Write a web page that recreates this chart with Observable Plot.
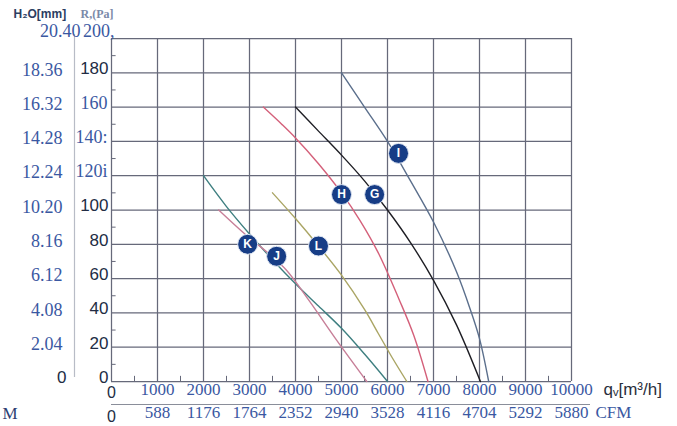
<!DOCTYPE html>
<html><head><meta charset="utf-8">
<script src="https://cdn.jsdelivr.net/npm/d3@7"></script>
<script src="https://cdn.jsdelivr.net/npm/@observablehq/plot@0.6"></script>
<style>html,body{margin:0;padding:0;background:#fff;} #chart svg{display:block}</style>
</head><body><div id="chart"></div>
<script>
// ---- data (flow in m³/h, pressure in Pa) ----
const fans = ["I", "G", "H", "L", "K", "J"];
const fanColors = ["#5b6f8c", "#1e1e24", "#d4607a", "#aaa564", "#3e7f80", "#c77f98"];
const flowI = [5000, 5500, 6000, 6500, 7000, 7500, 7800, 8000, 8200];
const presI = [180, 160, 140, 117, 93, 64, 42, 25, 0];
const flowG = [4000, 4500, 5000, 5500, 6000, 6500, 7000, 7500, 8020];
const presG = [160, 146, 132, 117, 100, 81, 59, 33, 0];
const flowH = [3300, 3700, 4000, 4500, 5000, 5400, 5800, 6250, 6570, 6880];
const presH = [160, 150, 142, 127, 110, 94, 75, 48, 27, 0];
const flowL = [3500, 4000, 4500, 5000, 5500, 5800, 6100, 6420];
const presL = [110, 95, 79, 62, 42, 28, 14, 0];
const flowK = [2000, 2500, 3000, 3500, 4000, 4500, 5000, 5500, 6000];
const presK = [120, 102, 86, 71, 57, 44, 31, 16, 0];
const flowJ = [2330, 2900, 3400, 3800, 4300, 4870, 5550];
const presJ = [100, 86, 75, 65, 47, 25, 0];
// label badge positions
const badgeFlow = [6240, 5720, 5000, 4500, 2960, 3590];
const badgePres = [133, 109, 109, 79, 80, 73];

// ---- axes text ----
const xTicks = [1000, 2000, 3000, 4000, 5000, 6000, 7000, 8000, 9000, 10000];
const xLabels = ["1000", "2000", "3000", "4000", "5000", "6000", "7000", "8000", "9000", "10000"];
const cfmLabels = ["588", "1176", "1764", "2352", "2940", "3528", "4116", "4704", "5292", "5880"];
const xMinor = [500, 1500, 2500, 3500, 4500, 5500, 6500, 7500, 8500, 9500];
const paTicks = [0, 20, 40, 60, 80, 100, 120, 140, 160, 180, 200];
const paMinor = [10, 30, 50, 70, 90, 110, 130, 150, 170, 190];
const paSerifTicks = [160, 140, 120];
const paSerifLabels = ["160", "140:", "120i"];
const paTopLabel = "200,";
const paSansTicks = [180, 100, 80, 60, 40, 20, 0];
const paSansLabels = ["180", "100", "80", "60", "40", "20", "0"];
const mmTicks = [20, 40, 60, 80, 100, 120, 140, 160, 180];
const mmLabels = ["2.04", "4.08", "6.12", "8.16", "10.20", "12.24", "14.28", "16.32", "18.36"];
const mmTopLabel = "20.40";
const zeroLabel = "0";
const unitMm = "H₂O[mm]";
const unitPa = "R,(Pa]";
const unitQ = "qᵥ[m³/h]";
const unitCfm = "CFM";
const strayM = "M";

const series = [
  [flowI, presI], [flowG, presG], [flowH, presH], [flowL, presL], [flowK, presK], [flowJ, presJ]
];
const badges = fans.map((f, i) => ({fan: f, q: badgeFlow[i], p: badgePres[i]}));

const serif = "Liberation Serif";
const sans = "Liberation Sans";
const blue = "#3a58a2";
const dark = "#222c44";
const gridColor = "#66697a";

const marks = [
  Plot.gridY(paTicks, {stroke: gridColor, strokeOpacity: 1, strokeWidth: 1.25}),
  Plot.gridX([0, ...xTicks], {stroke: gridColor, strokeOpacity: 1, strokeWidth: 1.25}),
  Plot.ruleX(xMinor, {y1: 0, y2: 3, stroke: gridColor, strokeWidth: 1}),
  Plot.ruleY(paMinor, {x1: 0, x2: 100, stroke: gridColor, strokeWidth: 1}),
  Plot.ruleX([0], {dx: -37, y1: 0, y2: 200, dy: -4, stroke: "#b8bcc6", strokeWidth: 1.2}),
  Plot.ruleY([0], {dy: 23, insetRight: -19, stroke: "#8a8e9a", strokeWidth: 1}),
];
series.forEach(([qs, ps], i) => {
  marks.push(Plot.line(qs.map((q, j) => ({q, p: ps[j]})), {
    x: "q", y: "p", stroke: fanColors[i], strokeWidth: 1.4, curve: "catmull-rom"
  }));
});
const T = (data, opts) => Plot.text(data, {lineAnchor: "middle", ...opts});
marks.push(
  Plot.dot(badges, {x: "q", y: "p", r: 10, fill: "#173d86", stroke: "#dfe6f2", strokeWidth: 1}),
  Plot.text(badges, {x: "q", y: "p", text: "fan", fill: "white", fontSize: 12, fontWeight: "bold", fontFamily: sans}),
  // Pa axis labels
  T(paSerifTicks, {y: d => d, frameAnchor: "left", text: (d, i) => paSerifLabels[i], textAnchor: "end", dx: -4, dy: -4,
    fontFamily: serif, fontSize: 18, fill: blue}),
  T([200], {y: d => d, frameAnchor: "left", text: () => paTopLabel, textAnchor: "end", dx: 3, dy: -7,
    fontFamily: serif, fontSize: 18, fill: blue}),
  T(paSansTicks, {y: d => d, frameAnchor: "left", text: (d, i) => paSansLabels[i], textAnchor: "end", dx: -3, dy: -4,
    fontFamily: sans, fontSize: 17, fill: dark}),
  // mm axis labels
  T(mmTicks, {y: d => d, frameAnchor: "left", text: (d, i) => mmLabels[i], textAnchor: "end", dx: -49, dy: -3,
    fontFamily: serif, fontSize: 18, fill: blue}),
  T([200], {y: d => d, frameAnchor: "left", text: () => mmTopLabel, textAnchor: "end", dx: -31, dy: -7,
    fontFamily: serif, fontSize: 18, fill: blue}),
  T([0], {y: d => d, frameAnchor: "left", text: () => zeroLabel, textAnchor: "end", dx: -45, dy: -4,
    fontFamily: sans, fontSize: 17, fill: dark}),
  // x axis rows
  T(xTicks, {x: d => d, frameAnchor: "bottom", text: (d, i) => xLabels[i], dy: 8,
    fontFamily: serif, fontSize: 17, fill: blue}),
  T([0], {x: d => d, frameAnchor: "bottom", text: () => zeroLabel, dy: 11, fontFamily: sans, fontSize: 16, fill: dark}),
  T(xTicks, {x: d => d, frameAnchor: "bottom", text: (d, i) => cfmLabels[i], dy: 31,
    fontFamily: serif, fontSize: 17, fill: blue}),
  T([0], {x: d => d, frameAnchor: "bottom", text: () => zeroLabel, dy: 35, fontFamily: sans, fontSize: 16, fill: dark}),
  // unit labels
  T([unitMm], {frameAnchor: "top-left", dx: -98, dy: -24, textAnchor: "start", fontFamily: sans, fontSize: 12, fontWeight: "bold", fill: "#2c3e62"}),
  T([unitPa], {frameAnchor: "top-left", dx: -31, dy: -24, textAnchor: "start", fontFamily: serif, fontSize: 12, fontWeight: "bold", fill: "#7b8aa8"}),
  T([unitQ], {frameAnchor: "bottom-right", dx: 32, dy: 8, textAnchor: "start", fontFamily: sans, fontSize: 17, fill: "#2a2f3c"}),
  T([unitCfm], {frameAnchor: "bottom-right", dx: 24, dy: 31, textAnchor: "start", fontFamily: serif, fontSize: 17, fill: blue}),
  T([strayM], {frameAnchor: "bottom-left", dx: -109, dy: 32, textAnchor: "start", fontFamily: serif, fontSize: 17, fill: "#2c3e72"})
);

const chart = Plot.plot({
  width: 677,
  height: 426,
  marginLeft: 111,
  marginRight: 106,
  marginTop: 38,
  marginBottom: 45,
  style: {background: "white", overflow: "visible"},
  x: {domain: [0, 10000], axis: null},
  y: {domain: [0, 200], axis: null},
  marks
});
document.getElementById("chart").appendChild(chart);
</script></body></html>
